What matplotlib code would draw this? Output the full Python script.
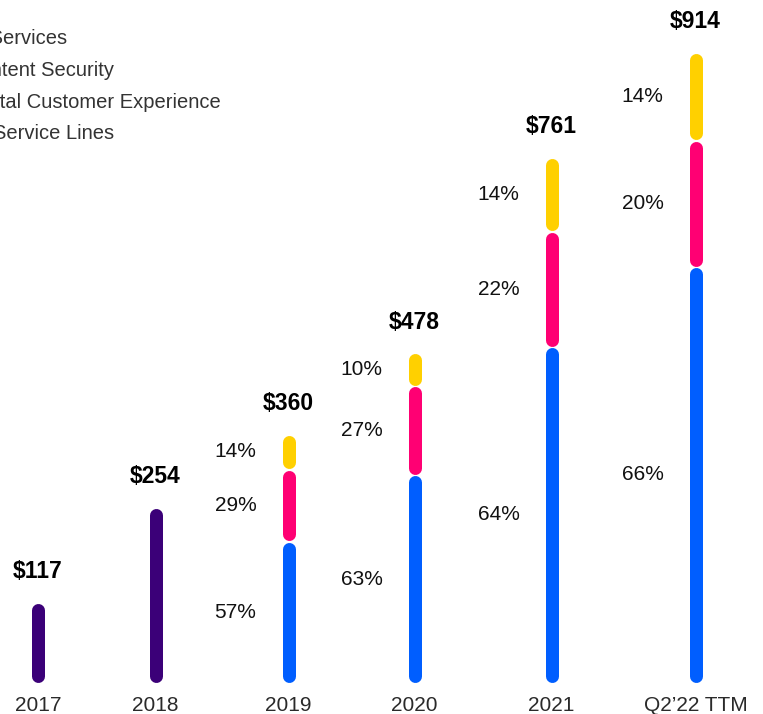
import matplotlib
matplotlib.use("Agg")
import matplotlib.pyplot as plt

# ---- data ----
categories = ["2017", "2018", "2019", "2020", "2021", "Q2\u201922 TTM"]
totals = [117, 254, 360, 478, 761, 914]
dce_pct = [None, None, 57, 63, 64, 66]   # Digital Customer Experience
cs_pct = [None, None, 29, 27, 22, 20]    # Content Security
ai_pct = [None, None, 14, 10, 14, 14]    # AI Services
legend_labels = ["AI Services", "Content Security",
                 "Digital Customer Experience", "All Service Lines"]

# ---- layout / style ----
bar_x = [38, 155.5, 288.5, 414.5, 551.5, 695.5]
C_ALL = "#3B0078"
C_DCE = "#005EFF"
C_CS = "#FF0073"
C_AI = "#FFD000"
FONT = ["Liberation Sans", "DejaVu Sans"]
plt.rcParams["font.family"] = FONT

W, H = 763, 714
fig = plt.figure(figsize=(W / 100, H / 100), dpi=100)
base_px = 683
ax = fig.add_axes([0, (H - base_px) / H, 1, base_px / H])
ppd = 0.69  # pixels per dollar
ymax = base_px / ppd
ax.set_xlim(0, W)
ax.set_ylim(0, ymax)
ax.axis("off")

lw_px = 13
lw_pt = lw_px * 0.72
gap_px = 1.5
pad = (lw_px / 2 + gap_px / 2) / ppd


def seg(x, lo, hi, color):
    y0, y1 = lo + pad, hi - pad
    if y1 < y0:
        y0 = y1 = (lo + hi) / 2
    ax.plot([x, x], [y0, y1], color=color, lw=lw_pt, solid_capstyle="round")


for i, x in enumerate(bar_x):
    tot = totals[i]
    if dce_pct[i] is None:
        seg(x, 0, tot, C_ALL)
    else:
        lo = 0
        for pct, col in ((dce_pct[i], C_DCE), (cs_pct[i], C_CS), (ai_pct[i], C_AI)):
            hi = lo + tot * pct / 100
            seg(x, lo, hi, col)
            ax.annotate(f"{pct}%", xy=(x, (lo + hi) / 2), xytext=(-32 * 0.72, 0),
                        textcoords="offset points", ha="right", va="center",
                        fontsize=15, color="#111111")
            lo = hi
    # total label
    ax.annotate(f"${tot}", xy=(x, tot), xytext=(0, 31 * 0.72),
                textcoords="offset points", ha="center", va="center",
                fontsize=16.5, fontweight="bold", color="#000000")
    # category label
    ax.annotate(categories[i], xy=(x, 0), xytext=(0, -22.5 * 0.72),
                textcoords="offset points", ha="center", va="center",
                fontsize=15, color="#2a2a2a", annotation_clip=False)

# legend (partially off the left edge of the figure, as in the reference)
leg_y = [38.5, 70.5, 102.5, 133.5]
leg_x = -35
for lab, yy in zip(legend_labels, leg_y):
    fig.text(leg_x / W, 1 - yy / H, lab, ha="left", va="center",
             fontsize=14.5, color="#333333")

fig.savefig("out.png", dpi=100)
